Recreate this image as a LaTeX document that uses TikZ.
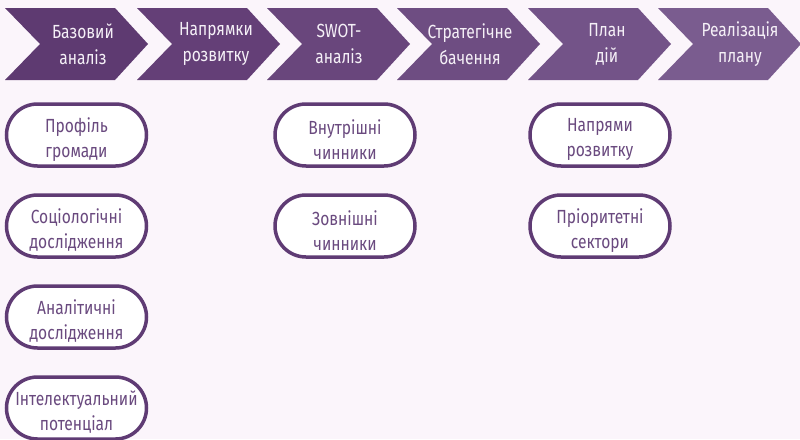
\documentclass[tikz,border=0pt]{standalone}
\usepackage{fontspec}
\setmainfont{Fira Sans}[FakeStretch=0.82]
\definecolor{bg}{HTML}{FBF5FB}
\definecolor{chA}{HTML}{5E3A71}
\definecolor{chB}{HTML}{643F77}
\definecolor{chC}{HTML}{69467C}
\definecolor{chD}{HTML}{6E4D82}
\definecolor{chE}{HTML}{735388}
\definecolor{chF}{HTML}{7A5C8F}
\definecolor{boxline}{HTML}{5F3B74}
\definecolor{boxtext}{HTML}{6A4A7F}
\definecolor{chtext}{HTML}{F5F0F7}
\begin{document}
\begin{tikzpicture}[x=1pt,y=-1pt,
  chevtext/.style={text=chtext,align=center,inner sep=0pt,font=\fontsize{19}{26}\selectfont},
  pillbox/.style={draw=boxline,line width=3.5pt,fill=white,rounded corners=31pt,
    minimum width=140pt,minimum height=62pt,inner sep=0pt},
  pilltext/.style={align=center,inner sep=0pt,yshift=-4.5pt,
    text=boxtext,font=\fontsize{19}{25}\selectfont}]
\fill[bg] (0,0) rectangle (800,439);
\useasboundingbox (0,0) rectangle (800,439);
% chevrons
\fill[chA] (5,8) -- ++(110,0) -- ++(33,36) -- ++(-33,36) -- ++(-110,0) -- ++(35,-36) -- cycle;
\fill[chB] (137,8) -- ++(110,0) -- ++(33,36) -- ++(-33,36) -- ++(-110,0) -- ++(35,-36) -- cycle;
\fill[chC] (267,8) -- ++(110,0) -- ++(33,36) -- ++(-33,36) -- ++(-110,0) -- ++(35,-36) -- cycle;
\fill[chD] (397,8) -- ++(110,0) -- ++(33,36) -- ++(-33,36) -- ++(-110,0) -- ++(35,-36) -- cycle;
\fill[chE] (528,8) -- ++(110,0) -- ++(33,36) -- ++(-33,36) -- ++(-110,0) -- ++(35,-36) -- cycle;
\fill[chF] (658,8) -- ++(110,0) -- ++(33,36) -- ++(-33,36) -- ++(-110,0) -- ++(35,-36) -- cycle;
\node[chevtext] (c1) at (83,44) {Базовий\\аналіз};
\node[chevtext] (c2) at (216,44) {Напрямки\\розвитку};
\node[chevtext] (c3) at (339,44) {SWOT-\\аналіз};
\node[chevtext] (c4) at (470,44) {Стратегічне\\бачення};
\node[chevtext] (c5) at (607,44) {План\\дій};
\node[chevtext] (c6) at (740,44) {Реалізація\\плану};
% boxes
\node[pillbox] (b1) at (76.5,135) {};
\node[pillbox] (b2) at (76.5,226) {};
\node[pillbox] (b3) at (76.5,317) {};
\node[pillbox] (b4) at (76.5,408) {};
\node[pillbox] (b5) at (345,135) {};
\node[pillbox] (b6) at (345,226) {};
\node[pillbox] (b7) at (600,135) {};
\node[pillbox] (b8) at (600,226) {};
\node[pilltext] (t1) at (b1) {Профіль\\громади};
\node[pilltext] (t2) at (b2) {Соціологічні\\дослідження};
\node[pilltext] (t3) at (b3) {Аналітичні\\дослідження};
\node[pilltext] (t4) at (b4) {Інтелектуальний\\потенціал};
\node[pilltext] (t5) at (b5) {Внутрішні\\чинники};
\node[pilltext] (t6) at (b6) {Зовнішні\\чинники};
\node[pilltext] (t7) at (b7) {Напрями\\розвитку};
\node[pilltext] (t8) at (b8) {Пріоритетні\\сектори};
\end{tikzpicture}
\end{document}
